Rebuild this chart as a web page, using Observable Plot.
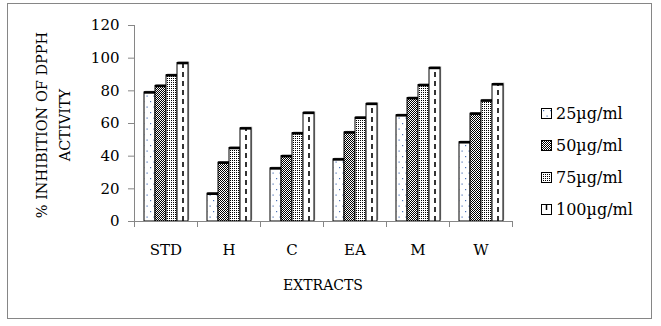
<!DOCTYPE html>
<html><head><meta charset="utf-8">
<script src="https://cdn.jsdelivr.net/npm/d3@7"></script>
<script src="https://cdn.jsdelivr.net/npm/@observablehq/plot@0.6"></script>
<style>
body{margin:0;background:#fff;}
#wrap{position:relative;width:661px;height:326px;font-family:"DejaVu Serif",serif;color:#000;}
#wrap svg{position:absolute;left:0;top:0;}
#border{position:absolute;left:7px;top:3px;width:645px;height:316px;border:1px solid #868686;box-sizing:border-box;pointer-events:none;}
#ylabel{position:absolute;left:54px;top:125px;transform:translate(-50%,-50%) rotate(-90deg);white-space:nowrap;text-align:center;font-size:14.5px;line-height:23px;}
#xlabel{position:absolute;left:323px;top:285px;transform:translate(-50%,-50%);font-size:14px;white-space:nowrap;}
#legend{position:absolute;left:541px;top:97px;font-size:16px;}
#legend .row{display:flex;align-items:center;height:32px;}
#legend svg{position:static;margin-right:4px;}
</style></head>
<body><div id="wrap"><div id="border"></div>
<div id="ylabel">% INHIBITION OF DPPH<br>ACTIVITY</div>
<div id="xlabel">EXTRACTS</div>
<div id="legend"></div>
</div>
<script>
const extracts = ["STD", "H", "C", "EA", "M", "W"];
const concentrations = ["25µg/ml", "50µg/ml", "75µg/ml", "100µg/ml"];
const c25 = [79, 17, 32.5, 38, 65, 48.5];
const c50 = [83, 36, 40, 54.5, 75.5, 66];
const c75 = [89.5, 45, 54, 63.5, 83.5, 74];
const c100 = [97, 57, 66.5, 72, 94, 84];
const yTicks = [0, 20, 40, 60, 80, 100, 120];
const patternIds = ["p25", "p50", "p75", "p100"];

const series = [c25, c50, c75, c100];
const data = [];
series.forEach((arr, j) => arr.forEach((v, i) => data.push({extract: extracts[i], conc: concentrations[j], value: v})));
const data100 = data.filter(d => d.conc === concentrations[3]);

const axisGrey = "#868686";
const chart = Plot.plot({
  width: 661, height: 326,
  marginLeft: 133, marginRight: 148, marginTop: 25, marginBottom: 105,
  style: {fontFamily: "DejaVu Serif", fontSize: "15px", color: "#000", background: "transparent", overflow: "visible"},
  fx: {domain: extracts, padding: 0, label: null},
  x: {domain: concentrations, paddingInner: 0, paddingOuter: 0.7, axis: null},
  y: {domain: [0, 120]},
  color: {domain: concentrations, range: patternIds.map(id => `url(#${id})`)},
  marks: [
    Plot.barY(data, {fx: "extract", x: "conc", y: "value", fill: "#a6a6a6", dx: 1.2, dy: -1.2}),
    Plot.barY(data, {fx: "extract", x: "conc", y: "value", fill: "conc", stroke: "#000", strokeWidth: 1}),
    Plot.ruleX(data100, {fx: "extract", x: "conc", y1: 0, y2: "value", stroke: "#000", strokeWidth: 1.6, strokeDasharray: "5,4"}),
    Plot.tickY(data, {fx: "extract", x: "conc", y: "value", stroke: "#000", strokeWidth: 2.5}),
    Plot.ruleY([0], {stroke: axisGrey}),
    Plot.frame({anchor: "left", facetAnchor: "left", stroke: axisGrey}),
    Plot.frame({anchor: "left", stroke: axisGrey, insetTop: 196, insetBottom: -5}),
    Plot.frame({anchor: "right", facetAnchor: "right", stroke: axisGrey, insetTop: 196, insetBottom: -5}),
    Plot.axisY(yTicks, {tickSize: 6, stroke: axisGrey, tickPadding: 9, label: null, fontSize: 15, fill: "#000"}),
    Plot.axisFx({anchor: "bottom", tickSize: 0, tickPadding: 23, label: null, fontSize: 15, fill: "#000"})
  ]
});

d3.select(chart).insert("defs", ":first-child").html(`
  <pattern id="p25" width="7" height="11" patternUnits="userSpaceOnUse">
    <rect width="7" height="11" fill="#fff"/>
    <rect x="2" y="2" width="1.2" height="1.2" fill="#4f74b8"/>
    <rect x="5.5" y="7.5" width="1.2" height="1.2" fill="#4f74b8"/>
  </pattern>
  <pattern id="p50" width="2" height="2" patternUnits="userSpaceOnUse">
    <rect width="2" height="2" fill="#fff"/>
    <rect x="0" y="0" width="1" height="1" fill="#000"/>
    <rect x="1" y="1" width="1" height="1" fill="#000"/>
  </pattern>
  <pattern id="p75" width="2" height="2" patternUnits="userSpaceOnUse">
    <rect width="2" height="2" fill="#fff"/>
    <rect x="0" y="0" width="1" height="1" fill="#000"/>
  </pattern>
  <pattern id="p100" width="4" height="4" patternUnits="userSpaceOnUse">
    <rect width="4" height="4" fill="#fff"/>
  </pattern>
`);
document.getElementById("wrap").prepend(chart);

const legend = d3.select("#legend");
concentrations.forEach((c, j) => {
  const row = legend.append("div").attr("class", "row");
  const sw = row.append("svg").attr("width", 11).attr("height", 11);
  sw.append("rect").attr("x", 0.5).attr("y", 0.5).attr("width", 10).attr("height", 10)
    .attr("fill", `url(#${patternIds[j]})`).attr("stroke", "#000");
  if (j === 3) sw.append("line").attr("x1", 5.5).attr("x2", 5.5).attr("y1", 1).attr("y2", 6).attr("stroke", "#000").attr("stroke-width", 1.5);
  row.append("span").text(c);
});
</script>
</body></html>
